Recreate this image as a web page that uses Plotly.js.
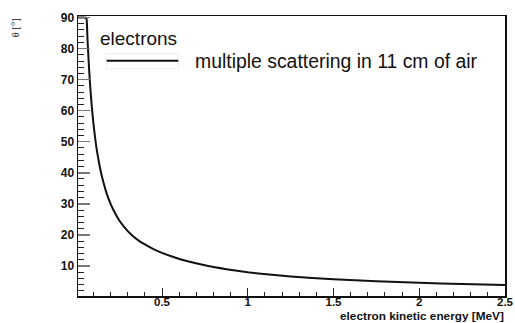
<!DOCTYPE html>
<html>
<head>
<meta charset="utf-8">
<script src="https://cdn.plot.ly/plotly-3.0.1.min.js"></script>
<style>html,body{margin:0;padding:0;background:#fff;}#chart{width:515px;height:323px;}</style>
</head>
<body>
<div id="chart"></div>
<script>
// electron kinetic energy [MeV]
const energy = [0.01, 0.03, 0.055, 0.06, 0.065, 0.072, 0.08, 0.09, 0.1, 0.11, 0.12, 0.135, 0.15, 0.175, 0.2, 0.225, 0.25, 0.28, 0.32, 0.36, 0.4, 0.45, 0.5, 0.575, 0.65, 0.75, 0.875, 1.0, 1.125, 1.25, 1.5, 1.75, 2.0, 2.25, 2.5];
// scattering angle theta [deg]
const theta = [90, 90, 90, 89.5, 83.6, 76, 68.8, 61.6, 55.9, 51.2, 47.2, 42.5, 38.7, 33.7, 30.0, 27.1, 24.7, 22.5, 20.1, 18.3, 16.9, 15.4, 14.2, 12.7, 11.5, 10.2, 8.95, 7.95, 7.2, 6.6, 5.7, 5.05, 4.55, 4.15, 3.82];
const xTicks = [0.5, 1, 1.5, 2, 2.5];
const yTicks = [10, 20, 30, 40, 50, 60, 70, 80, 90];
const legendHeader = "electrons";
const seriesName = "multiple scattering in 11 cm of air";
const xTitle = "electron kinetic energy [MeV]";
const yTitle = "θ [°]";

const tickFont = {family: "Liberation Sans, Arial, sans-serif", size: 12, color: "#111", weight: "bold"};
const xTickFont = {family: "Liberation Sans, Arial, sans-serif", size: 11.5, color: "#111", weight: "bold"};

const trace = {
  x: energy, y: theta, type: "scatter", mode: "lines",
  name: seriesName,
  line: {color: "#111", width: 2, shape: "spline", smoothing: 0.5},
  showlegend: false, hoverinfo: "skip", cliponaxis: true
};

const layout = {
  width: 515, height: 323,
  margin: {l: 78, r: 10, t: 16, b: 27},
  paper_bgcolor: "#fff", plot_bgcolor: "#fff",
  showlegend: false,
  xaxis: {
    range: [0.01, 2.5], tickmode: "array", tickvals: xTicks, ticktext: xTicks.map(String),
    ticks: "inside", ticklen: 8, tickwidth: 1, tickcolor: "#222",
    minor: {dtick: 0.1, ticks: "inside", ticklen: 4, tickcolor: "#222", tickwidth: 1, showgrid: false},
    showline: true, linecolor: "#111", linewidth: 1.5, mirror: true,
    showgrid: false, zeroline: false, tickfont: xTickFont, ticklabelstandoff: -5
  },
  yaxis: {
    range: [0.3, 90.5], tickmode: "array", tickvals: yTicks, ticktext: yTicks.map(String),
    ticks: "inside", ticklen: 12, tickwidth: 1.5, tickcolor: "#777",
    minor: {dtick: 2, tick0: 0, ticks: "inside", ticklen: 6, tickcolor: "#222", tickwidth: 1, showgrid: false},
    showline: true, linecolor: "#111", linewidth: 1.5, mirror: true,
    showgrid: false, zeroline: false, tickfont: tickFont
  },
  shapes: [
    {type: "rect", xref: "paper", yref: "paper", x0: 0.066, x1: 0.236, y0: 0.812, y1: 0.866,
     line: {color: "#eeeeee", width: 1}, fillcolor: "rgba(0,0,0,0)"},
    {type: "line", xref: "paper", yref: "paper", x0: 0.0672, x1: 0.2349, y0: 0.8404, y1: 0.8404,
     line: {color: "#111", width: 2}}
  ],
  annotations: [
    {text: legendHeader, xref: "paper", yref: "paper", x: 0.048, y: 0.918, xanchor: "left", yanchor: "middle",
     showarrow: false, font: {family: "Liberation Sans, Arial, sans-serif", size: 19, color: "#111"}},
    {text: seriesName, xref: "paper", yref: "paper", x: 0.269, y: 0.84, xanchor: "left", yanchor: "middle",
     showarrow: false, font: {family: "Liberation Sans, Arial, sans-serif", size: 19.4, color: "#111"}},
    {text: "<b>" + xTitle + "</b>", xref: "paper", yref: "paper", x: 1.0, y: -0.0714, xanchor: "right", yanchor: "middle",
     borderpad: 0, showarrow: false, font: {family: "Liberation Sans, Arial, sans-serif", size: 11.8, color: "#111"}},
    {text: yTitle, xref: "paper", yref: "paper", x: -0.146, y: 1.0, xanchor: "center", yanchor: "top",
     textangle: -90, showarrow: false, font: {family: "Liberation Serif, Times New Roman, serif", size: 10.5, color: "#111"}}
  ]
};

Plotly.newPlot("chart", [trace], layout, {staticPlot: true, displayModeBar: false});
</script>
</body>
</html>
